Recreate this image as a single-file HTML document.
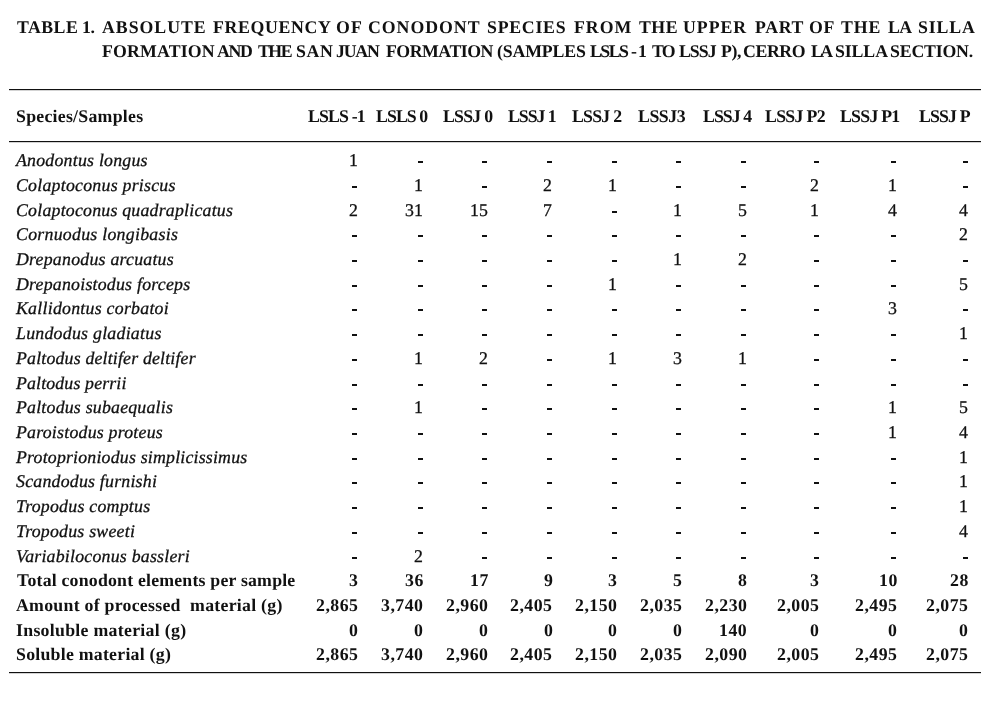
<!DOCTYPE html>
<html><head><meta charset="utf-8">
<style>
html,body{margin:0;padding:0;background:#fff;}
body{-webkit-text-stroke:0.3px #111;width:1003px;height:703px;position:relative;overflow:hidden;font-family:"Liberation Serif",serif;color:#111;font-size:17.8px;line-height:20px;text-rendering:geometricPrecision;}
div{position:absolute;white-space:nowrap;will-change:transform;}
.b{font-weight:bold;-webkit-text-stroke:0;}
.i{font-style:italic;}
.d{width:5px;height:2px;background:#111;}
.ru{left:9px;width:972px;height:1px;background:#111;box-shadow:0 0.5px 0.5px rgba(0,0,0,0.35);}
</style></head><body>
<div class="ru" style="top:89px"></div>
<div class="ru" style="top:141px"></div>
<div class="ru" style="top:672px"></div>
<div class="b" style="left:17.20px;top:17px;letter-spacing:0.450px">TABLE</div>
<div class="b" style="left:82.20px;top:17px;letter-spacing:-0.300px">1.</div>
<div class="b" style="left:102.00px;top:17px;letter-spacing:0.971px">ABSOLUTE</div>
<div class="b" style="left:212.50px;top:17px;letter-spacing:0.638px">FREQUENCY</div>
<div class="b" style="left:336.40px;top:17px;letter-spacing:1.100px">OF</div>
<div class="b" style="left:368.00px;top:17px;letter-spacing:0.971px">CONODONT</div>
<div class="b" style="left:487.00px;top:17px;letter-spacing:0.750px">SPECIES</div>
<div class="b" style="left:574.00px;top:17px;letter-spacing:1.000px">FROM</div>
<div class="b" style="left:638.50px;top:17px;letter-spacing:0.500px">THE</div>
<div class="b" style="left:683.00px;top:17px;letter-spacing:0.975px">UPPER</div>
<div class="b" style="left:754.50px;top:17px;letter-spacing:0.633px">PART</div>
<div class="b" style="left:808.60px;top:17px;letter-spacing:0.600px">OF</div>
<div class="b" style="left:840.90px;top:17px;letter-spacing:0.950px">THE</div>
<div class="b" style="left:887.60px;top:17px;letter-spacing:-0.600px">LA</div>
<div class="b" style="left:918.30px;top:17px;letter-spacing:0.875px">SILLA</div>
<div class="b" style="left:102.20px;top:41px;letter-spacing:0.175px">FORMATION</div>
<div class="b" style="left:216.50px;top:41px;letter-spacing:-1.400px">AND</div>
<div class="b" style="left:257.70px;top:41px;letter-spacing:-1.500px">THE</div>
<div class="b" style="left:295.60px;top:41px;letter-spacing:0.650px">SAN</div>
<div class="b" style="left:336.30px;top:41px;letter-spacing:-1.200px">JUAN</div>
<div class="b" style="left:386.30px;top:41px;letter-spacing:-0.488px">FORMATION</div>
<div class="b" style="left:496.90px;top:41px;letter-spacing:-0.157px">(SAMPLES</div>
<div class="b" style="left:589.90px;top:41px;letter-spacing:-1.500px">LSLS</div>
<div class="b" style="left:631.30px;top:41px;letter-spacing:1.200px">-1</div>
<div class="b" style="left:651.80px;top:41px;letter-spacing:-1.700px">TO</div>
<div class="b" style="left:679.30px;top:41px;letter-spacing:-1.000px">LSSJ</div>
<div class="b" style="left:721.20px;top:41px;letter-spacing:-0.400px">P),</div>
<div class="b" style="left:743.20px;top:41px;letter-spacing:-0.400px">CERRO</div>
<div class="b" style="left:810.50px;top:41px;letter-spacing:-2.700px">LA</div>
<div class="b" style="left:835.30px;top:41px;letter-spacing:-0.100px">SILLA</div>
<div class="b" style="left:890.40px;top:41px;letter-spacing:-0.186px">SECTION.</div>
<div class="b" style="left:16.20px;top:106px;letter-spacing:0.257px">Species/Samples</div>
<div class="b" style="left:308.40px;top:106px;letter-spacing:-0.833px">LSLS -1</div>
<div class="b" style="left:376.20px;top:106px;letter-spacing:-0.920px">LSLS 0</div>
<div class="b" style="left:442.60px;top:106px;letter-spacing:-0.760px">LSSJ 0</div>
<div class="b" style="left:508.00px;top:106px;letter-spacing:-1.040px">LSSJ 1</div>
<div class="b" style="left:572.40px;top:106px;letter-spacing:-0.760px">LSSJ 2</div>
<div class="b" style="left:638.20px;top:106px;letter-spacing:-0.450px">LSSJ3</div>
<div class="b" style="left:702.60px;top:106px;letter-spacing:-0.940px">LSSJ 4</div>
<div class="b" style="left:765.40px;top:106px;letter-spacing:-0.700px">LSSJ P2</div>
<div class="b" style="left:840.40px;top:106px;letter-spacing:-0.750px">LSSJ P1</div>
<div class="b" style="left:919.30px;top:106px;letter-spacing:-0.840px">LSSJ P</div>
<div class="i" style="left:16.00px;top:150px;letter-spacing:0.240px">Anodontus longus</div>
<div style="left:348.53px;top:150px;letter-spacing:0.200px">1</div>
<div class="i" style="left:16.00px;top:175px;letter-spacing:0.253px">Colaptoconus priscus</div>
<div style="left:413.93px;top:175px;letter-spacing:0.200px">1</div>
<div style="left:543.32px;top:175px;letter-spacing:0.200px">2</div>
<div style="left:608.02px;top:175px;letter-spacing:0.200px">1</div>
<div style="left:809.92px;top:175px;letter-spacing:0.200px">2</div>
<div style="left:887.82px;top:175px;letter-spacing:0.200px">1</div>
<div class="i" style="left:16.00px;top:200px;letter-spacing:0.231px">Colaptoconus quadraplicatus</div>
<div style="left:348.53px;top:200px;letter-spacing:0.200px">2</div>
<div style="left:404.83px;top:200px;letter-spacing:0.200px">31</div>
<div style="left:469.63px;top:200px;letter-spacing:0.200px">15</div>
<div style="left:543.32px;top:200px;letter-spacing:0.200px">7</div>
<div style="left:672.82px;top:200px;letter-spacing:0.200px">1</div>
<div style="left:737.62px;top:200px;letter-spacing:0.200px">5</div>
<div style="left:809.92px;top:200px;letter-spacing:0.200px">1</div>
<div style="left:887.82px;top:200px;letter-spacing:0.200px">4</div>
<div style="left:958.92px;top:200px;letter-spacing:0.200px">4</div>
<div class="i" style="left:16.00px;top:224px;letter-spacing:0.274px">Cornuodus longibasis</div>
<div style="left:958.92px;top:224px;letter-spacing:0.200px">2</div>
<div class="i" style="left:16.00px;top:249px;letter-spacing:0.244px">Drepanodus arcuatus</div>
<div style="left:672.82px;top:249px;letter-spacing:0.200px">1</div>
<div style="left:737.62px;top:249px;letter-spacing:0.200px">2</div>
<div class="i" style="left:16.00px;top:274px;letter-spacing:0.238px">Drepanoistodus forceps</div>
<div style="left:608.02px;top:274px;letter-spacing:0.200px">1</div>
<div style="left:958.92px;top:274px;letter-spacing:0.200px">5</div>
<div class="i" style="left:16.00px;top:298px;letter-spacing:0.263px">Kallidontus corbatoi</div>
<div style="left:887.82px;top:298px;letter-spacing:0.200px">3</div>
<div class="i" style="left:16.00px;top:323px;letter-spacing:0.265px">Lundodus gladiatus</div>
<div style="left:958.92px;top:323px;letter-spacing:0.200px">1</div>
<div class="i" style="left:16.00px;top:348px;letter-spacing:0.192px">Paltodus deltifer deltifer</div>
<div style="left:413.93px;top:348px;letter-spacing:0.200px">1</div>
<div style="left:478.73px;top:348px;letter-spacing:0.200px">2</div>
<div style="left:608.02px;top:348px;letter-spacing:0.200px">1</div>
<div style="left:672.82px;top:348px;letter-spacing:0.200px">3</div>
<div style="left:737.62px;top:348px;letter-spacing:0.200px">1</div>
<div class="i" style="left:16.00px;top:373px;letter-spacing:0.157px">Paltodus perrii</div>
<div class="i" style="left:16.00px;top:397px;letter-spacing:0.221px">Paltodus subaequalis</div>
<div style="left:413.93px;top:397px;letter-spacing:0.200px">1</div>
<div style="left:887.82px;top:397px;letter-spacing:0.200px">1</div>
<div style="left:958.92px;top:397px;letter-spacing:0.200px">5</div>
<div class="i" style="left:16.00px;top:422px;letter-spacing:0.239px">Paroistodus proteus</div>
<div style="left:887.82px;top:422px;letter-spacing:0.200px">1</div>
<div style="left:958.92px;top:422px;letter-spacing:0.200px">4</div>
<div class="i" style="left:16.00px;top:447px;letter-spacing:0.210px">Protoprioniodus simplicissimus</div>
<div style="left:958.92px;top:447px;letter-spacing:0.200px">1</div>
<div class="i" style="left:16.00px;top:471px;letter-spacing:0.235px">Scandodus furnishi</div>
<div style="left:958.92px;top:471px;letter-spacing:0.200px">1</div>
<div class="i" style="left:16.00px;top:496px;letter-spacing:0.253px">Tropodus comptus</div>
<div style="left:958.92px;top:496px;letter-spacing:0.200px">1</div>
<div class="i" style="left:16.00px;top:521px;letter-spacing:0.243px">Tropodus sweeti</div>
<div style="left:958.92px;top:521px;letter-spacing:0.200px">4</div>
<div class="i" style="left:16.00px;top:546px;letter-spacing:0.236px">Variabiloconus bassleri</div>
<div style="left:413.93px;top:546px;letter-spacing:0.200px">2</div>
<div class="b" style="left:17.20px;top:570px;letter-spacing:0.200px">Total conodont elements per sample</div>
<div class="b" style="left:348.73px;top:570px;letter-spacing:0.500px">3</div>
<div class="b" style="left:404.73px;top:570px;letter-spacing:0.500px">36</div>
<div class="b" style="left:469.53px;top:570px;letter-spacing:0.500px">17</div>
<div class="b" style="left:543.52px;top:570px;letter-spacing:0.500px">9</div>
<div class="b" style="left:608.23px;top:570px;letter-spacing:0.500px">3</div>
<div class="b" style="left:673.02px;top:570px;letter-spacing:0.500px">5</div>
<div class="b" style="left:737.83px;top:570px;letter-spacing:0.500px">8</div>
<div class="b" style="left:810.12px;top:570px;letter-spacing:0.500px">3</div>
<div class="b" style="left:878.63px;top:570px;letter-spacing:0.500px">10</div>
<div class="b" style="left:949.73px;top:570px;letter-spacing:0.500px">28</div>
<div class="b" style="left:16.40px;top:595px;letter-spacing:0.263px">Amount of processed&nbsp; material (g)</div>
<div class="b" style="left:315.60px;top:595px;letter-spacing:0.500px">2,865</div>
<div class="b" style="left:381.00px;top:595px;letter-spacing:0.500px">3,740</div>
<div class="b" style="left:445.80px;top:595px;letter-spacing:0.500px">2,960</div>
<div class="b" style="left:510.40px;top:595px;letter-spacing:0.500px">2,405</div>
<div class="b" style="left:575.10px;top:595px;letter-spacing:0.500px">2,150</div>
<div class="b" style="left:639.90px;top:595px;letter-spacing:0.500px">2,035</div>
<div class="b" style="left:704.70px;top:595px;letter-spacing:0.500px">2,230</div>
<div class="b" style="left:777.00px;top:595px;letter-spacing:0.500px">2,005</div>
<div class="b" style="left:854.90px;top:595px;letter-spacing:0.500px">2,495</div>
<div class="b" style="left:926.00px;top:595px;letter-spacing:0.500px">2,075</div>
<div class="b" style="left:15.80px;top:620px;letter-spacing:0.290px">Insoluble material (g)</div>
<div class="b" style="left:348.73px;top:620px;letter-spacing:0.500px">0</div>
<div class="b" style="left:414.12px;top:620px;letter-spacing:0.500px">0</div>
<div class="b" style="left:478.93px;top:620px;letter-spacing:0.500px">0</div>
<div class="b" style="left:543.52px;top:620px;letter-spacing:0.500px">0</div>
<div class="b" style="left:608.23px;top:620px;letter-spacing:0.500px">0</div>
<div class="b" style="left:673.02px;top:620px;letter-spacing:0.500px">0</div>
<div class="b" style="left:719.04px;top:620px;letter-spacing:0.500px">140</div>
<div class="b" style="left:810.12px;top:620px;letter-spacing:0.500px">0</div>
<div class="b" style="left:888.02px;top:620px;letter-spacing:0.500px">0</div>
<div class="b" style="left:959.12px;top:620px;letter-spacing:0.500px">0</div>
<div class="b" style="left:15.80px;top:644px;letter-spacing:0.247px">Soluble material (g)</div>
<div class="b" style="left:315.60px;top:644px;letter-spacing:0.500px">2,865</div>
<div class="b" style="left:381.00px;top:644px;letter-spacing:0.500px">3,740</div>
<div class="b" style="left:445.80px;top:644px;letter-spacing:0.500px">2,960</div>
<div class="b" style="left:510.40px;top:644px;letter-spacing:0.500px">2,405</div>
<div class="b" style="left:575.10px;top:644px;letter-spacing:0.500px">2,150</div>
<div class="b" style="left:639.90px;top:644px;letter-spacing:0.500px">2,035</div>
<div class="b" style="left:704.70px;top:644px;letter-spacing:0.500px">2,090</div>
<div class="b" style="left:777.00px;top:644px;letter-spacing:0.500px">2,005</div>
<div class="b" style="left:854.90px;top:644px;letter-spacing:0.500px">2,495</div>
<div class="b" style="left:926.00px;top:644px;letter-spacing:0.500px">2,075</div>
<div class="d" style="left:417.5px;top:161px"></div>
<div class="d" style="left:482.3px;top:161px"></div>
<div class="d" style="left:546.9px;top:161px"></div>
<div class="d" style="left:611.6px;top:161px"></div>
<div class="d" style="left:676.4px;top:161px"></div>
<div class="d" style="left:741.2px;top:161px"></div>
<div class="d" style="left:813.5px;top:161px"></div>
<div class="d" style="left:891.4px;top:161px"></div>
<div class="d" style="left:962.5px;top:161px"></div>
<div class="d" style="left:352.1px;top:186px"></div>
<div class="d" style="left:482.3px;top:186px"></div>
<div class="d" style="left:676.4px;top:186px"></div>
<div class="d" style="left:741.2px;top:186px"></div>
<div class="d" style="left:962.5px;top:186px"></div>
<div class="d" style="left:611.6px;top:211px"></div>
<div class="d" style="left:352.1px;top:235px"></div>
<div class="d" style="left:417.5px;top:235px"></div>
<div class="d" style="left:482.3px;top:235px"></div>
<div class="d" style="left:546.9px;top:235px"></div>
<div class="d" style="left:611.6px;top:235px"></div>
<div class="d" style="left:676.4px;top:235px"></div>
<div class="d" style="left:741.2px;top:235px"></div>
<div class="d" style="left:813.5px;top:235px"></div>
<div class="d" style="left:891.4px;top:235px"></div>
<div class="d" style="left:352.1px;top:260px"></div>
<div class="d" style="left:417.5px;top:260px"></div>
<div class="d" style="left:482.3px;top:260px"></div>
<div class="d" style="left:546.9px;top:260px"></div>
<div class="d" style="left:611.6px;top:260px"></div>
<div class="d" style="left:813.5px;top:260px"></div>
<div class="d" style="left:891.4px;top:260px"></div>
<div class="d" style="left:962.5px;top:260px"></div>
<div class="d" style="left:352.1px;top:285px"></div>
<div class="d" style="left:417.5px;top:285px"></div>
<div class="d" style="left:482.3px;top:285px"></div>
<div class="d" style="left:546.9px;top:285px"></div>
<div class="d" style="left:676.4px;top:285px"></div>
<div class="d" style="left:741.2px;top:285px"></div>
<div class="d" style="left:813.5px;top:285px"></div>
<div class="d" style="left:891.4px;top:285px"></div>
<div class="d" style="left:352.1px;top:309px"></div>
<div class="d" style="left:417.5px;top:309px"></div>
<div class="d" style="left:482.3px;top:309px"></div>
<div class="d" style="left:546.9px;top:309px"></div>
<div class="d" style="left:611.6px;top:309px"></div>
<div class="d" style="left:676.4px;top:309px"></div>
<div class="d" style="left:741.2px;top:309px"></div>
<div class="d" style="left:813.5px;top:309px"></div>
<div class="d" style="left:962.5px;top:309px"></div>
<div class="d" style="left:352.1px;top:334px"></div>
<div class="d" style="left:417.5px;top:334px"></div>
<div class="d" style="left:482.3px;top:334px"></div>
<div class="d" style="left:546.9px;top:334px"></div>
<div class="d" style="left:611.6px;top:334px"></div>
<div class="d" style="left:676.4px;top:334px"></div>
<div class="d" style="left:741.2px;top:334px"></div>
<div class="d" style="left:813.5px;top:334px"></div>
<div class="d" style="left:891.4px;top:334px"></div>
<div class="d" style="left:352.1px;top:359px"></div>
<div class="d" style="left:546.9px;top:359px"></div>
<div class="d" style="left:813.5px;top:359px"></div>
<div class="d" style="left:891.4px;top:359px"></div>
<div class="d" style="left:962.5px;top:359px"></div>
<div class="d" style="left:352.1px;top:384px"></div>
<div class="d" style="left:417.5px;top:384px"></div>
<div class="d" style="left:482.3px;top:384px"></div>
<div class="d" style="left:546.9px;top:384px"></div>
<div class="d" style="left:611.6px;top:384px"></div>
<div class="d" style="left:676.4px;top:384px"></div>
<div class="d" style="left:741.2px;top:384px"></div>
<div class="d" style="left:813.5px;top:384px"></div>
<div class="d" style="left:891.4px;top:384px"></div>
<div class="d" style="left:962.5px;top:384px"></div>
<div class="d" style="left:352.1px;top:408px"></div>
<div class="d" style="left:482.3px;top:408px"></div>
<div class="d" style="left:546.9px;top:408px"></div>
<div class="d" style="left:611.6px;top:408px"></div>
<div class="d" style="left:676.4px;top:408px"></div>
<div class="d" style="left:741.2px;top:408px"></div>
<div class="d" style="left:813.5px;top:408px"></div>
<div class="d" style="left:352.1px;top:433px"></div>
<div class="d" style="left:417.5px;top:433px"></div>
<div class="d" style="left:482.3px;top:433px"></div>
<div class="d" style="left:546.9px;top:433px"></div>
<div class="d" style="left:611.6px;top:433px"></div>
<div class="d" style="left:676.4px;top:433px"></div>
<div class="d" style="left:741.2px;top:433px"></div>
<div class="d" style="left:813.5px;top:433px"></div>
<div class="d" style="left:352.1px;top:458px"></div>
<div class="d" style="left:417.5px;top:458px"></div>
<div class="d" style="left:482.3px;top:458px"></div>
<div class="d" style="left:546.9px;top:458px"></div>
<div class="d" style="left:611.6px;top:458px"></div>
<div class="d" style="left:676.4px;top:458px"></div>
<div class="d" style="left:741.2px;top:458px"></div>
<div class="d" style="left:813.5px;top:458px"></div>
<div class="d" style="left:891.4px;top:458px"></div>
<div class="d" style="left:352.1px;top:482px"></div>
<div class="d" style="left:417.5px;top:482px"></div>
<div class="d" style="left:482.3px;top:482px"></div>
<div class="d" style="left:546.9px;top:482px"></div>
<div class="d" style="left:611.6px;top:482px"></div>
<div class="d" style="left:676.4px;top:482px"></div>
<div class="d" style="left:741.2px;top:482px"></div>
<div class="d" style="left:813.5px;top:482px"></div>
<div class="d" style="left:891.4px;top:482px"></div>
<div class="d" style="left:352.1px;top:507px"></div>
<div class="d" style="left:417.5px;top:507px"></div>
<div class="d" style="left:482.3px;top:507px"></div>
<div class="d" style="left:546.9px;top:507px"></div>
<div class="d" style="left:611.6px;top:507px"></div>
<div class="d" style="left:676.4px;top:507px"></div>
<div class="d" style="left:741.2px;top:507px"></div>
<div class="d" style="left:813.5px;top:507px"></div>
<div class="d" style="left:891.4px;top:507px"></div>
<div class="d" style="left:352.1px;top:532px"></div>
<div class="d" style="left:417.5px;top:532px"></div>
<div class="d" style="left:482.3px;top:532px"></div>
<div class="d" style="left:546.9px;top:532px"></div>
<div class="d" style="left:611.6px;top:532px"></div>
<div class="d" style="left:676.4px;top:532px"></div>
<div class="d" style="left:741.2px;top:532px"></div>
<div class="d" style="left:813.5px;top:532px"></div>
<div class="d" style="left:891.4px;top:532px"></div>
<div class="d" style="left:352.1px;top:557px"></div>
<div class="d" style="left:482.3px;top:557px"></div>
<div class="d" style="left:546.9px;top:557px"></div>
<div class="d" style="left:611.6px;top:557px"></div>
<div class="d" style="left:676.4px;top:557px"></div>
<div class="d" style="left:741.2px;top:557px"></div>
<div class="d" style="left:813.5px;top:557px"></div>
<div class="d" style="left:891.4px;top:557px"></div>
<div class="d" style="left:962.5px;top:557px"></div>
</body></html>
